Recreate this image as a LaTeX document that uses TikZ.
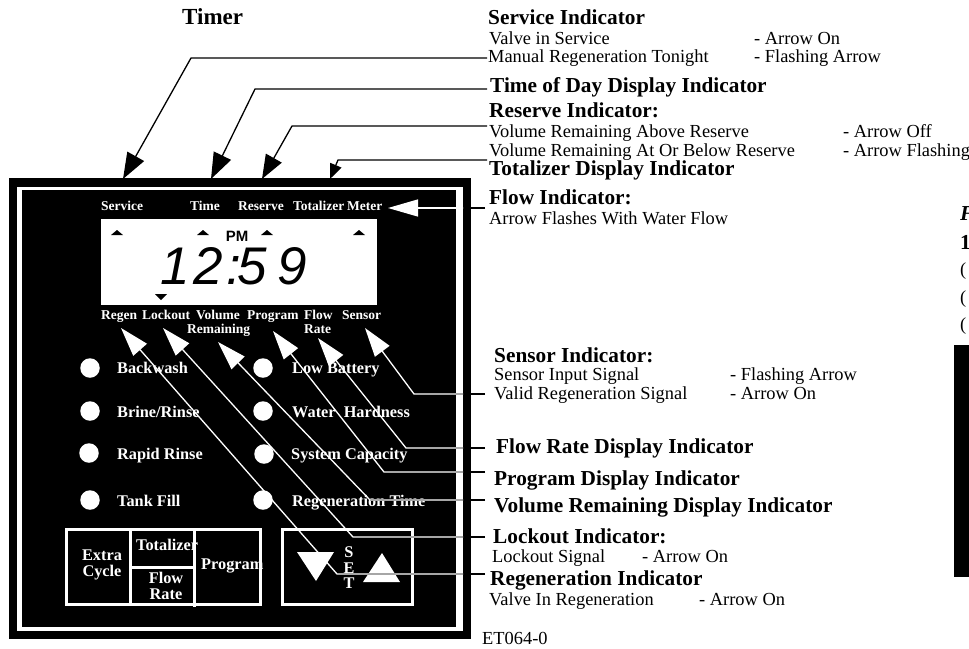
\documentclass[tikz,border=0pt]{standalone}
\usepackage{fontspec}
\setmainfont{Liberation Serif}
\newfontfamily\lcdfont{Liberation Sans}
\usetikzlibrary{arrows.meta}
\tikzset{
  >={Triangle[length=26pt,width=19pt]},
  whitehead/.style={-{Triangle[length=29pt,width=18pt]}},
  leadline/.style={line width=1.3pt, line join=miter},
  heading/.style={anchor=base west, inner sep=0pt, font=\fontsize{21.3}{24}\selectfont\bfseries},
  detail/.style={anchor=base west, inner sep=0pt, font=\fontsize{18.4}{20}\selectfont},
  tag/.style={anchor=base west, inner sep=0pt, text=white, font=\fontsize{13.5}{15}\selectfont\bfseries},
  bigtag/.style={anchor=base west, inner sep=0pt, text=white, font=\fontsize{16.3}{18}\selectfont\bfseries},
  keytag/.style={bigtag, anchor=base},
  lamp/.style={circle, fill=white, inner sep=0pt, minimum size=19.5pt},
  keyline/.style={draw=white, line width=3pt},
}

\begin{document}
\begin{tikzpicture}[x=1pt, y=-1pt]
    \useasboundingbox (0,0) rectangle (969,648);

    % housing
    \fill[black] (9,178) rectangle (471,639);
    \fill[white] (17,187) rectangle (463,631);
    \fill[black] (22,190) rectangle (456,627);
    \fill[white] (101,219) rectangle (377,305);

    % display
    \foreach \x in {117,203,267,359}
      \fill[black] (\x-6,235) -- (\x+6,235) -- (\x,230) -- cycle;
    \fill[black] (155,294) -- (167,294) -- (161,300) -- cycle;
    \node[inner sep=0pt, anchor=base, font=\lcdfont\bfseries\fontsize{15}{15}\selectfont] (pm) at (237,241) {PM};
    \node[inner sep=0pt, anchor=base west, font=\lcdfont\itshape\fontsize{53}{53}\selectfont] (clock) at (160,284)
      {1\hspace{4pt}2\hspace{3pt}:\hspace{-3pt}5\hspace{10pt}9};

    % labels above and below the display
    \node[tag] (service) at (101,210) {Service};
    \node[tag] (time) at (190,210) {Time};
    \node[tag] (reserve) at (238,210) {Reserve};
    \node[tag] (totalizer) at (293,210) {Totalizer};
    \node[tag] (meter) at (347,210) {Meter};
    \node[tag] (regen) at (101,319) {Regen};
    \node[tag] (lockout) at (142,319) {Lockout};
    \node[tag] (volume) at (196,319) {Volume};
    \node[tag] (remaining) at (187,333) {Remaining};
    \node[tag] (program) at (247,319) {Program};
    \node[tag] (flow) at (304,319) {Flow};
    \node[tag] (rate) at (304,333) {Rate};
    \node[tag] (sensor) at (342,319) {Sensor};

    % lamps
    \node[lamp] (lampa) at (90,368) {};
    \node[lamp] (lampb) at (90,411) {};
    \node[lamp] (lampc) at (89,453) {};
    \node[lamp] (lampd) at (90,500) {};
    \node[lamp] (lampe) at (263,368) {};
    \node[lamp] (lampf) at (263,411) {};
    \node[lamp] (lampg) at (264,454) {};
    \node[lamp] (lamph) at (263,500) {};
    \node[bigtag] (backwash) at (117,373) {Backwash};
    \node[bigtag] (brine) at (117,417) {Brine/Rinse};
    \node[bigtag] (rapid) at (117,459) {Rapid Rinse};
    \node[bigtag] (tank) at (117,506) {Tank Fill};
    \node[bigtag] (battery) at (292,373) {Low Battery};
    \node[bigtag] (hardness) at (292,417) {Water\ \ Hardness};
    \node[bigtag] (capacity) at (291,459) {System Capacity};
    \node[bigtag] (regentime) at (292,506) {Regeneration Time};

    % keys
    \draw[keyline] (66,529) rectangle (260,604);
    \draw[keyline] (130,529) -- (130,604);
    \draw[keyline] (194,529) -- (194,607);
    \draw[keyline] (130,567) -- (194,567);
    \draw[keyline] (282,529) rectangle (412,604);
    \draw[keyline] (412,529) -- (414,529);
    \node[keytag] (extra) at (102,560) {Extra};
    \node[keytag] (cycle) at (102,576) {Cycle};
    \node[bigtag] (keytotal) at (136,550) {Totalizer};
    \node[keytag] (keyflow) at (166,583) {Flow};
    \node[keytag] (keyrate) at (166,599) {Rate};
    \node[bigtag] (keyprogram) at (201,569) {Program};
    \node[keytag] (sets) at (349,557) {S};
    \node[keytag] (sete) at (349,573) {E};
    \node[keytag] (sett) at (349,588) {T};
    \fill[white] (297,552) -- (334,552) -- (316,581) -- cycle;
    \fill[white] (363,582) -- (400,582) -- (382,553) -- cycle;

    % texts on the right
    \node[anchor=base west, inner sep=0pt, font=\fontsize{23}{25}\selectfont\bfseries] (timer) at (182,24) {Timer};
    \node[heading] (hservice) at (488,24) {Service Indicator};
    \node[detail] (dserviceA) at (489,44) {Valve in Service};
    \node[detail] (sserviceA) at (754,44) {- Arrow On};
    \node[detail] (dserviceB) at (488,62) {Manual Regeneration Tonight};
    \node[detail] (sserviceB) at (754,62) {- Flashing Arrow};
    \node[heading] (htime) at (490,92) {Time of Day Display Indicator};
    \node[heading] (hreserve) at (489,117) {Reserve Indicator:};
    \node[detail] (dreserveA) at (489,137) {Volume Remaining Above Reserve};
    \node[detail] (sreserveA) at (843,137) {- Arrow Off};
    \node[detail] (dreserveB) at (489,156) {Volume Remaining At Or Below Reserve};
    \node[detail] (sreserveB) at (843,156) {- Arrow Flashing};
    \node[heading] (htotal) at (489,175) {Totalizer Display Indicator};
    \node[heading] (hflow) at (489,204) {Flow Indicator:};
    \node[detail] (dflow) at (489,224) {Arrow Flashes With Water Flow};
    \node[heading] (hsensor) at (494,362) {Sensor Indicator:};
    \node[detail] (dsensorA) at (494,380) {Sensor Input Signal};
    \node[detail] (ssensorA) at (730,380) {- Flashing Arrow};
    \node[detail] (dsensorB) at (494,399) {Valid Regeneration Signal};
    \node[detail] (ssensorB) at (730,399) {- Arrow On};
    \node[heading] (hrate) at (496,453) {Flow Rate Display Indicator};
    \node[heading] (hprogram) at (494,485) {Program Display Indicator};
    \node[heading] (hvolume) at (494,512) {Volume Remaining Display Indicator};
    \node[heading] (hlockout) at (493,543) {Lockout Indicator:};
    \node[detail] (dlockout) at (492,562) {Lockout Signal};
    \node[detail] (slockout) at (642,562) {- Arrow On};
    \node[heading] (hregen) at (490,585) {Regeneration Indicator};
    \node[detail] (dregen) at (489,605) {Valve In Regeneration};
    \node[detail] (sregen) at (699,605) {- Arrow On};
    \node[detail] (code) at (482,644) {ET064-0};

    % next column, cut off by the page
    \node[heading, font=\fontsize{21.3}{24}\selectfont\bfseries\itshape] (nextA) at (960,220) {F};
    \node[heading] (nextB) at (960,249) {1};
    \node[detail] (nextC) at (960,275) {(};
    \node[detail] (nextD) at (960,303) {(};
    \node[detail] (nextE) at (960,330) {(};
    \fill[black] (954,345) rectangle (969,577);

    % leaders
    \coordinate (a1) at (487,58);  \coordinate (a2) at (191,58);  \coordinate (a3) at (123,179);
    \coordinate (b1) at (487,89);  \coordinate (b2) at (255,89);  \coordinate (b3) at (211,179);
    \coordinate (c1) at (487,126); \coordinate (c2) at (292,126); \coordinate (c3) at (262,179);
    \coordinate (d1) at (487,160); \coordinate (d2) at (338,160); \coordinate (d3) at (330,179);
    \coordinate (e1) at (485,208); \coordinate (e2) at (430,208); \coordinate (e3) at (388,208);
    \coordinate (f1) at (485,394); \coordinate (f2) at (414,394); \coordinate (f3) at (365,328);
    \coordinate (g1) at (485,448); \coordinate (g2) at (406,448); \coordinate (g3) at (318,338);
    \coordinate (h1) at (485,472); \coordinate (h2) at (384,472); \coordinate (h3) at (273,331);
    \coordinate (i1) at (485,500); \coordinate (i2) at (370,500); \coordinate (i3) at (218,342);
    \coordinate (j1) at (485,537); \coordinate (j2) at (353,537); \coordinate (j3) at (163,328);
    \coordinate (k1) at (485,574); \coordinate (k2) at (337,574); \coordinate (k3) at (121,328);

    \draw[leadline, ->] (a1) -- (a2) -- (a3);
    \draw[leadline, ->] (b1) -- (b2) -- (b3);
    \draw[leadline, -{Triangle[length=24pt,width=18pt]}] (c1) -- (c2) -- (c3);
    \draw[leadline, -{Triangle[length=15pt,width=12pt]}] (d1) -- (d2) -- (d3);
    \foreach \n in {e,f,g,h,i,j,k}
      \draw[leadline] (\n1) -- (\n2);
    \begin{scope}
      \clip (22,190) rectangle (463,627);
      \draw[leadline, white, -{Triangle[length=30pt,width=17pt]}] (e1) -- (e3);
      \foreach \n in {f,g,h,i,j,k}
        \draw[leadline, white, whitehead] (\n1) -- (\n2) -- (\n3);
    \end{scope}
  \end{tikzpicture}
\end{document}
